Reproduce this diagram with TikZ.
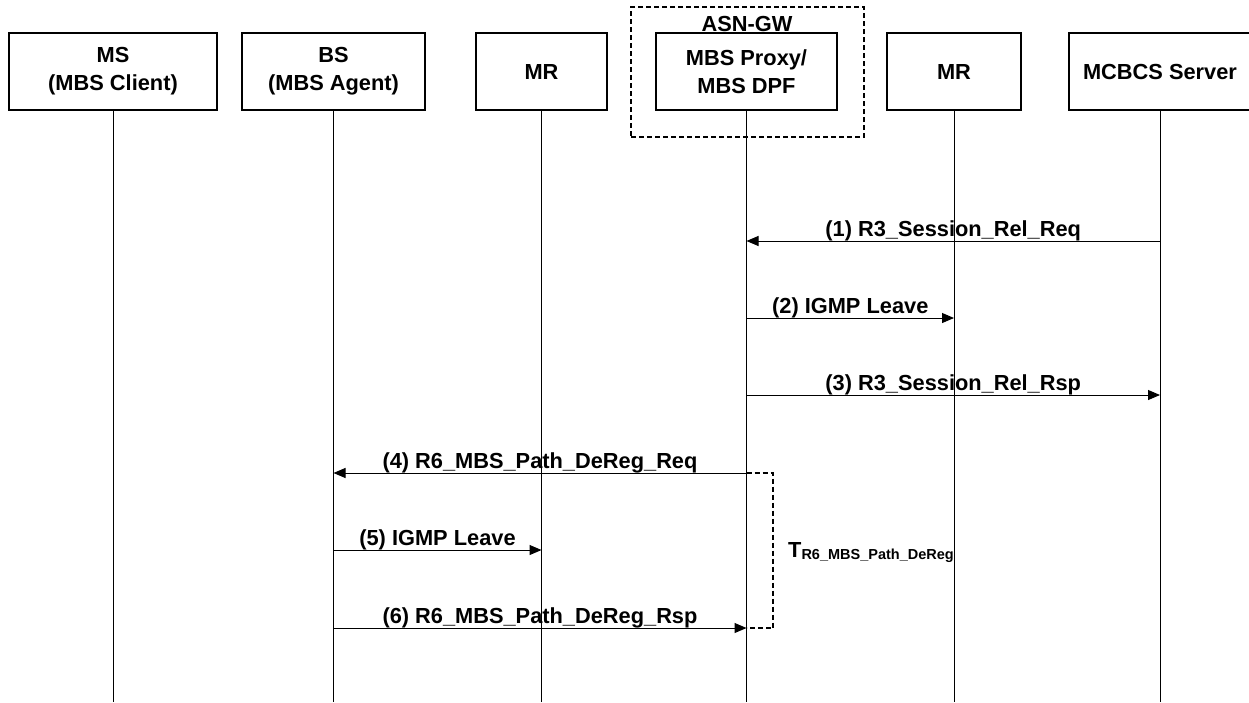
\documentclass[tikz,border=0pt]{standalone}
\usepackage{fontspec}
\setmainfont{Liberation Sans}
\usepackage{tikz}
\usetikzlibrary{positioning}
\usetikzlibrary{arrows.meta}
\usetikzlibrary{calc}
\tikzstyle{entity}=[draw,line width=1.2pt,minimum height=77pt,inner sep=0pt,align=center,font=\bfseries\fontsize{21.8}{28}\selectfont]
\tikzstyle{lifeline} = [draw,line width=1pt]
\tikzstyle{edge} = [draw,line width=1pt,-{Triangle[length=12pt,width=10pt]}]
\tikzstyle{boldtext} = [inner sep=0pt,font=\bfseries\fontsize{21.8}{25}\selectfont]
\tikzstyle{weight} = [boldtext,anchor=base,yshift=5pt]
\tikzstyle{groupbox} = [draw,line width=2pt,dash pattern=on 5pt off 3pt,inner sep=0pt]
\tikzstyle{timer} = [draw,line width=2pt,dash pattern=on 5pt off 3pt]

\begin{document}
\begin{tikzpicture}[x=1pt,y=-1pt]
 \useasboundingbox (0,0) rectangle (1249,702);

 % gateway frame
 \node[groupbox,minimum width=233pt,minimum height=130pt] (asngw) at (747.5,72) {};
 \node[boldtext,anchor=base] (asnlbl) at (747,31) {ASN-GW};

     \foreach \pos/\name/\wid/\label in {{(113,71.5)/ms/208/{MS\\(MBS Client)}}, {(333.5,71.5)/bs/183/{BS\\(MBS Agent)}}, {(541.5,71.5)/mrone/131/MR}, {(746.5,71.5)/dpf/181/{MBS Proxy/\\MBS DPF}}, {(954,71.5)/mrtwo/134/MR}, {(1160,71.5)/srv/182/MCBCS Server}}
        \node[entity,fill=white,minimum width=\wid pt] (\name) at \pos {\label};

  \foreach \name in {ms,bs,mrone,dpf,mrtwo,srv}
        \path[lifeline] (\name.south) -- (\name.south |- 0,702);

  \foreach \source/ \dest /\y/\weight in {srv/dpf/241/{(1) R3\_Session\_Rel\_Req}, dpf/mrtwo/318/{(2) IGMP Leave}, dpf/srv/395/{(3) R3\_Session\_Rel\_Rsp}, dpf/bs/473/{(4) R6\_MBS\_Path\_DeReg\_Req}, bs/mrone/550/{(5) IGMP Leave}, bs/dpf/628/{(6) R6\_MBS\_Path\_DeReg\_Rsp}}
        \path[edge] (\source |- 0,\y) -- node[weight] {\weight} (\dest |- 0,\y);

 % timer bracket
 \coordinate (tmrtop) at (773,473);
 \coordinate (tmrbot) at (773,628);
 \path[timer] (dpf |- tmrtop) -- (tmrtop) -- (tmrbot) -- (dpf |- tmrbot);
 \node[boldtext,anchor=base west] (tmr) at (788,557) {T\raisebox{-2.5pt}{\fontsize{14.5}{16}\selectfont R6\_MBS\_Path\_DeReg}};

   \end{tikzpicture}
\end{document}
